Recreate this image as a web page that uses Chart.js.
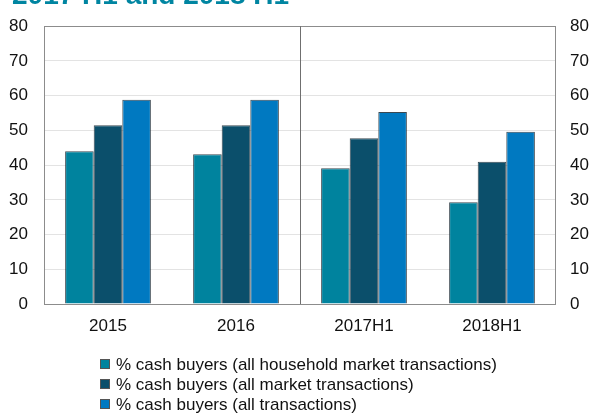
<!DOCTYPE html>
<html>
<head>
<meta charset="utf-8">
<script src="https://cdn.jsdelivr.net/npm/chart.js@4"></script>
<style>
  html, body { margin: 0; padding: 0; background: #fff; overflow: hidden; }
  #wrap { position: relative; width: 590px; height: 417px; overflow: hidden; }
  #title {
    position: absolute; left: 12px; top: -21px; white-space: nowrap;
    font: bold 28px "Liberation Sans", Arial, sans-serif; color: #0085a1;
  }
  #legend {
    position: absolute; left: 100px; top: 355px;
    font: 17px "Liberation Sans", Arial, sans-serif; color: #111;
  }
  #legend div { height: 20px; line-height: 20px; white-space: nowrap; }
  #legend span {
    display: inline-block; width: 8px; height: 8px; margin-right: 6px;
    border: 1px solid #555; vertical-align: 1px;
  }
</style>
</head>
<body>
<div id="wrap">
  <canvas id="cashChart" width="590" height="417"></canvas>
  <div id="title">2017 H1 and 2018 H1</div>
  <div id="legend"></div>
</div>
<script>
const categories = ['2015', '2016', '2017H1', '2018H1'];
const seriesNames = [
    '% cash buyers (all household market transactions)',
    '% cash buyers (all market transactions)',
    '% cash buyers (all transactions)'
];
const householdMarket = [44.0, 43.1, 39.1, 29.3];
const allMarket = [51.5, 51.5, 47.7, 41.0];
const allTransactions = [58.8, 58.8, 55.3, 49.6];
const yTicks = [0, 10, 20, 30, 40, 50, 60, 70, 80];

const colors = ['#00839e', '#0b4f6b', '#0079c1'];
const seriesValues = [householdMarket, allMarket, allTransactions];

// legend in html, one row per series
const legend = document.getElementById('legend');
seriesNames.forEach(function(name, i) {
    const row = document.createElement('div');
    row.innerHTML = '<span style="background:' + colors[i] + '"></span>' + name;
    legend.appendChild(row);
});

// box round the plot plus the line between 2016 and 2017H1
const frame = {
    id: 'frame',
    afterDatasetsDraw(chart) {
        const a = chart.chartArea;
        const x = chart.scales.x;
        const ctx = chart.ctx;
        ctx.save();
        ctx.strokeStyle = '#8c8c8c';
        ctx.lineWidth = 1;
        ctx.strokeRect(Math.round(a.left) + 0.5, Math.round(a.top) + 0.5,
            Math.round(a.right - a.left) - 1, Math.round(a.bottom - a.top));
        const sx = Math.round((x.getPixelForValue(1) + x.getPixelForValue(2)) / 2) + 0.5;
        ctx.strokeStyle = '#6f6f6f';
        ctx.beginPath();
        ctx.moveTo(sx, a.top);
        ctx.lineTo(sx, a.bottom);
        ctx.stroke();
        ctx.restore();
    }
};

const font = { family: '"Liberation Sans", Arial, sans-serif', size: 17 };

const ctx = document.getElementById('cashChart').getContext('2d');
new Chart(ctx, {
    type: 'bar',
    data: {
        labels: categories,
        datasets: seriesNames.map((name, i) => ({
            label: name,
            data: seriesValues[i],
            backgroundColor: colors[i],
            borderColor: 'rgba(25,40,50,0.85)',
            borderWidth: 1,
            categoryPercentage: 0.67,
            barPercentage: 1.0
        }))
    },
    options: {
        responsive: false,
        animation: false,
        layout: { padding: { top: 25, bottom: 73, left: 0, right: 0 } },
        plugins: {
            legend: { display: false },
            tooltip: { enabled: false }
        },
        scales: {
            x: {
                grid: { display: false, drawTicks: false },
                border: { display: false },
                ticks: { font: font, color: '#111', padding: 12 },
                afterFit: function(s) { s.height = 40; }
            },
            y: {
                position: 'left',
                min: 0,
                max: 80,
                afterBuildTicks: function(s) { s.ticks = yTicks.map(v => ({ value: v })); },
                grid: { color: '#e3e3e3', drawTicks: false },
                border: { display: false },
                ticks: { font: font, color: '#111', padding: 16 },
                afterFit: function(s) { s.width = 44; }
            },
            y2: {
                position: 'right',
                min: 0,
                max: 80,
                afterBuildTicks: function(s) { s.ticks = yTicks.map(v => ({ value: v })); },
                grid: { display: false, drawTicks: false },
                border: { display: false },
                ticks: { font: font, color: '#111', padding: 14 },
                afterFit: function(s) { s.width = 34; }
            }
        }
    },
    plugins: [frame]
});
</script>
</body>
</html>
